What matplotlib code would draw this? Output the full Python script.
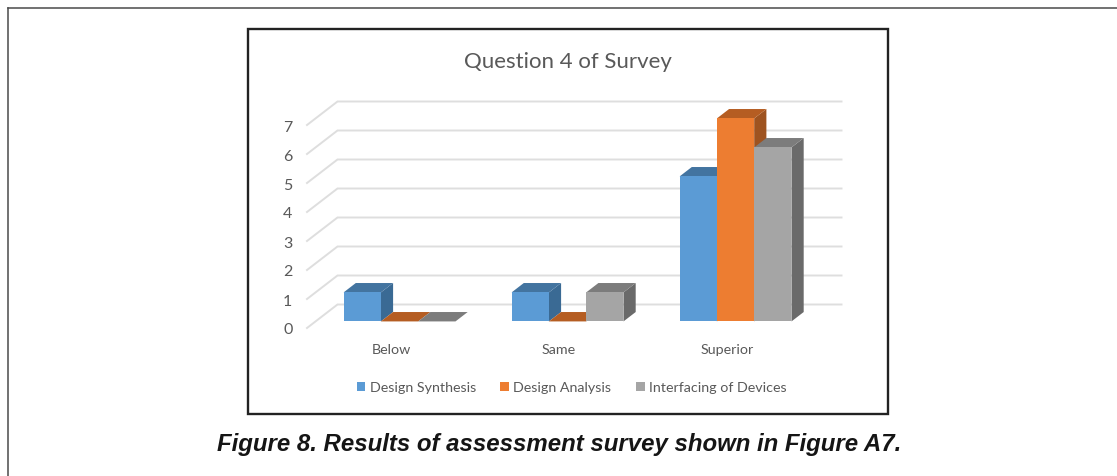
import matplotlib
matplotlib.use("Agg")
import matplotlib.pyplot as plt
from matplotlib.lines import Line2D
from matplotlib.patches import Rectangle, Patch

categories = ["Below", "Same", "Superior"]
design_synthesis = [1, 1, 5]
design_analysis = [0, 0, 7]
interfacing = [0, 1, 6]
series_names = ["Design Synthesis", "Design Analysis", "Interfacing of Devices"]
y_ticks = [0, 1, 2, 3, 4, 5, 6, 7]
title = "Question 4 of Survey"
caption = "Figure 8. Results of assessment survey shown in Figure A7."

W, H = 1117, 477
fig = plt.figure(figsize=(W / 100, H / 100), dpi=100, facecolor="white")
plt.rcParams["font.family"] = ["Lato", "DejaVu Sans"]

def px_rect(x0, y0, x1, y1):
    return [x0 / W, 1 - y1 / H, (x1 - x0) / W, (y1 - y0) / H]

# outer page frame and chart box
for xs, ys in [((8, W), (8.5, 8.5)), ((8, 8), (8.5, H))]:
    fig.add_artist(Line2D([x / W for x in xs], [1 - y / H for y in ys],
                          color="#4a4a4a", lw=1.1))
fig.add_artist(Rectangle((248 / W, 1 - 414.5 / H), 639.5 / W, 385 / H, fill=False,
                         ec="#222222", lw=1.7, transform=fig.transFigure))

ax = fig.add_axes(px_rect(307, 126, 811, 329))
ax.set_xlim(-0.5, 2.5)
ax.set_ylim(0, 7)
ax.patch.set_alpha(0)
for s in ax.spines.values():
    s.set_visible(False)

# floor depth and bar placement inside the floor
depth_x, depth_y = 30.5 / 168, 23.5 / 29
bar_front, bar_back = 0.28, 0.68
bar_w = 37.3 / 168
grid = "#DEDEDE"

for v in y_ticks:
    ax.plot([-0.5, -0.5 + depth_x, 2.5 + depth_x], [v, v + depth_y, v + depth_y],
            color=grid, lw=1.4, clip_on=False, zorder=1, solid_joinstyle="miter")

palette = [("#5B9BD5", "#4374A0", "#3A6A94"),
           ("#ED7D31", "#B55D22", "#9E5320"),
           ("#A5A5A5", "#7C7C7C", "#6A6A6A")]
series = [design_synthesis, design_analysis, interfacing]
z = 2
fx = bar_front * depth_x
fy = bar_front * depth_y
bx = (bar_back - bar_front) * depth_x
by = (bar_back - bar_front) * depth_y
for c in range(len(categories)):
    for s, vals in enumerate(series):
        v = vals[c]
        left = c + fx + (s - 1.5) * bar_w
        front, top, side = palette[s]
        ax.fill([left + bar_w, left + bar_w + bx, left + bar_w + bx, left + bar_w],
                [fy, fy + by, fy + by + v, fy + v], color=side, lw=0, clip_on=False, zorder=z)
        ax.fill([left, left + bar_w, left + bar_w + bx, left + bx],
                [fy + v, fy + v, fy + v + by, fy + v + by], color=top, lw=0, clip_on=False, zorder=z + 1)
        ax.bar(left, v, bar_w, bottom=fy, align="edge", color=front, lw=0, clip_on=False, zorder=z + 2)
        z += 3

ax.set_xticks(range(len(categories)), categories)
ax.set_yticks(y_ticks, [str(v) for v in y_ticks])
ax.tick_params(axis="both", length=0, labelcolor="#595959")
ax.tick_params(axis="x", labelsize=10.3, pad=10.5)
ax.tick_params(axis="y", labelsize=11.5, pad=10.5)

handles = [Patch(fc=palette[i][0], ec="none", label=series_names[i]) for i in range(3)]
fig.legend(handles=handles, loc="center", bbox_to_anchor=(571.5 / W, 1 - 388.5 / H), ncol=3,
           frameon=False, fontsize=10.3, labelcolor="#595959", handlelength=0.62, handleheight=0.62,
           handletextpad=0.3, columnspacing=1.7, borderpad=0)

fig.text(568 / W, 1 - 62.5 / H, title, ha="center", va="center", fontsize=16, color="#595959")
fig.text(559 / W, 1 - 445 / H, caption, ha="center", va="center", fontsize=17.3,
         fontweight="bold", fontstyle="italic", family=["Liberation Sans", "DejaVu Sans"], color="#151515")

fig.savefig("out.png", dpi=100)
